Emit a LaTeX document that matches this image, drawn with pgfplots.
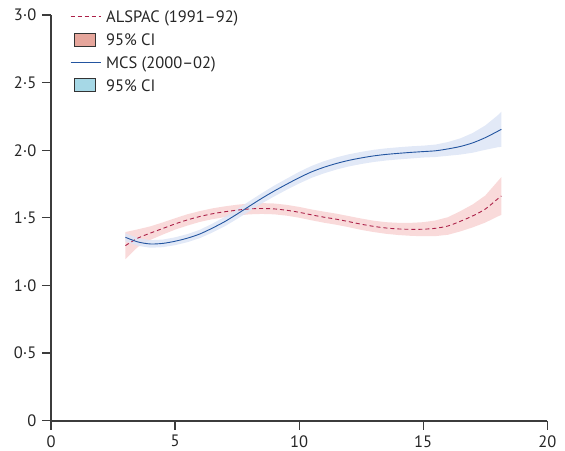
\documentclass[border=0pt]{standalone}
\usepackage{pgfplots}
\pgfplotsset{compat=1.18}
\usepgfplotslibrary{fillbetween}
\usepackage{fontspec}
\setmainfont{PT Sans}
\definecolor{redline}{RGB}{172,32,72}
\definecolor{blueline}{RGB}{35,85,160}
\definecolor{redband}{RGB}{249,218,218}
\definecolor{blueband}{RGB}{221,229,246}
\definecolor{pinkbox}{RGB}{230,166,156}
\definecolor{bluebox}{RGB}{166,216,230}
\definecolor{axisgray}{RGB}{60,60,60}

% x  y  lo  hi
\pgfplotstableread{
x y lo hi
3.0 1.356 1.326 1.386
3.5 1.322 1.293 1.351
4.0 1.307 1.279 1.335
4.5 1.311 1.283 1.339
5.0 1.327 1.298 1.356
5.5 1.350 1.320 1.380
6.0 1.381 1.350 1.412
6.5 1.424 1.391 1.457
7.0 1.472 1.437 1.507
7.5 1.528 1.492 1.564
8.0 1.587 1.550 1.624
8.5 1.645 1.607 1.683
9.0 1.699 1.659 1.739
9.5 1.749 1.708 1.790
10.0 1.797 1.754 1.840
10.5 1.840 1.796 1.884
11.0 1.874 1.829 1.919
11.5 1.902 1.857 1.947
12.0 1.925 1.880 1.970
12.5 1.943 1.898 1.988
13.0 1.958 1.913 2.003
13.5 1.969 1.924 2.014
14.0 1.977 1.932 2.022
14.5 1.984 1.939 2.029
15.0 1.990 1.946 2.034
15.5 1.996 1.950 2.042
16.0 2.010 1.959 2.061
16.5 2.028 1.968 2.088
17.0 2.055 1.982 2.128
17.5 2.093 2.003 2.183
18.0 2.140 2.022 2.258
18.15 2.155 2.025 2.285
}\mcs

\pgfplotstableread{
x y lo hi
3.0 1.295 1.195 1.395
3.5 1.350 1.285 1.415
4.0 1.387 1.337 1.437
4.5 1.421 1.376 1.466
5.0 1.455 1.413 1.497
5.5 1.485 1.443 1.527
6.0 1.510 1.470 1.550
6.5 1.530 1.490 1.570
7.0 1.545 1.505 1.585
7.5 1.557 1.517 1.597
8.0 1.566 1.526 1.606
8.5 1.569 1.529 1.609
9.0 1.566 1.526 1.606
9.5 1.556 1.516 1.596
10.0 1.541 1.501 1.581
10.5 1.522 1.482 1.562
11.0 1.505 1.464 1.546
11.5 1.490 1.449 1.531
12.0 1.472 1.431 1.513
12.5 1.453 1.411 1.495
13.0 1.437 1.395 1.479
13.5 1.425 1.382 1.468
14.0 1.418 1.373 1.463
14.5 1.415 1.367 1.463
15.0 1.416 1.364 1.468
15.5 1.423 1.365 1.481
16.0 1.440 1.375 1.505
16.5 1.475 1.400 1.550
17.0 1.515 1.430 1.600
17.5 1.565 1.465 1.665
18.0 1.640 1.510 1.770
18.15 1.662 1.522 1.802
}\alspac

\begin{document}
\fontsize{16.5bp}{19bp}\selectfont
\begin{tikzpicture}
\begin{axis}[
  at={(0,0)}, anchor=south west,
  scale only axis,
  width=496.3bp, height=405.7bp,
  xmin=0, xmax=20, ymin=0, ymax=3,
  axis x line*=bottom, axis y line*=left,
  axis line style={axisgray, line width=1.6bp, -},
  xtick={0,5,10,15,20},
  xticklabels={0,5,10,15,20},
  ytick={0,0.5,1,1.5,2,2.5,3},
  yticklabels={0,0·5,1·0,1·5,2·0,2·5,3·0},
  tick align=outside,
  major tick length=9bp,
  tick style={axisgray, line width=1.3bp},
  ticklabel style={font=\fontsize{16.5bp}{19bp}\selectfont, color=black!85},
  legend cell align=left,
  legend style={at={(0,1)}, anchor=north west, xshift=19bp, yshift=6.3bp,
    draw=none, fill=none, inner sep=0pt, row sep=6.8bp, column sep=5bp,
    font=\fontsize{16.5bp}{19bp}\selectfont,
    nodes={inner sep=0pt, text height=14bp, text depth=2bp, text=black!85}},
]
\addplot[name path=rlo, draw=none, forget plot] table[x=x,y=lo]{\alspac};
\addplot[name path=rhi, draw=none, forget plot] table[x=x,y=hi]{\alspac};
\addplot[fill=redband, draw=none, forget plot] fill between[of=rlo and rhi];
\addplot[name path=blo, draw=none, forget plot] table[x=x,y=lo]{\mcs};
\addplot[name path=bhi, draw=none, forget plot] table[x=x,y=hi]{\mcs};
\addplot[fill=blueband, fill opacity=0.85, draw=none, forget plot] fill between[of=blo and bhi];
\addplot[redline, line width=0.9bp, dash pattern=on 4bp off 3bp, smooth, forget plot] table[x=x,y=y]{\alspac};
\addplot[blueline, line width=0.9bp, smooth, forget plot] table[x=x,y=y]{\mcs};

\addlegendimage{legend image code/.code={\draw[redline, line width=0.9bp, dash pattern=on 4bp off 3bp] (0bp,0bp) -- (30bp,0bp);}}
\addlegendentry{ALSPAC (1991–92)}
\addlegendimage{legend image code/.code={\draw[fill=pinkbox, draw=black!80, line width=0.8bp] (4bp,-6.5bp) rectangle (25bp,6.5bp);}}
\addlegendentry{95\% CI}
\addlegendimage{legend image code/.code={\draw[blueline, line width=0.9bp] (0bp,0bp) -- (30bp,0bp);}}
\addlegendentry{MCS (2000–02)}
\addlegendimage{legend image code/.code={\draw[fill=bluebox, draw=black!80, line width=0.8bp] (4bp,-6.5bp) rectangle (25bp,6.5bp);}}
\addlegendentry{95\% CI}
\end{axis}
\pgfresetboundingbox
\path[use as bounding box] (-51bp,-30.3bp) rectangle (514bp,420.7bp);
\end{tikzpicture}
\end{document}
